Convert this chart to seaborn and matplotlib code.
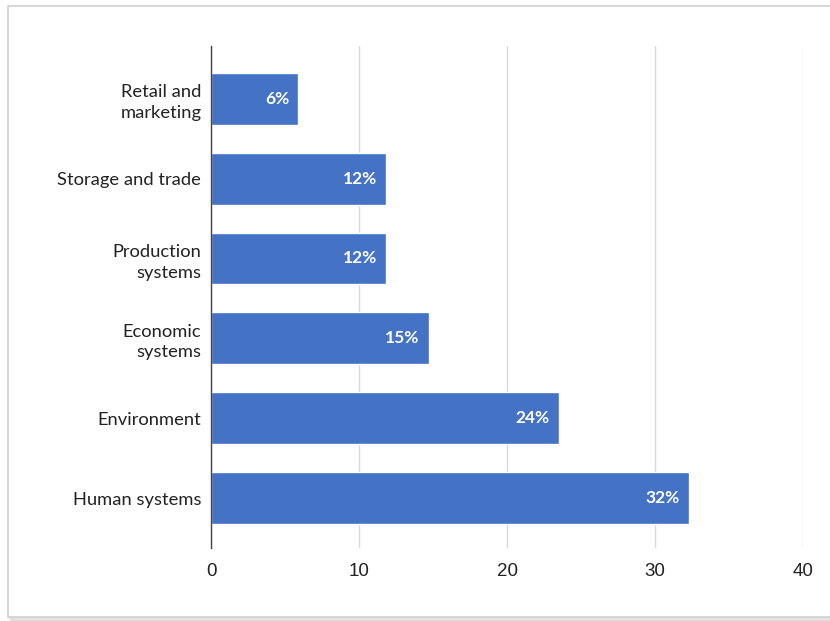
import matplotlib
matplotlib.use("Agg")
import matplotlib.pyplot as plt
import seaborn as sns
import pandas as pd
from matplotlib.patches import Rectangle

categories = ["Retail and\nmarketing", "Storage and trade", "Production\nsystems",
              "Economic\nsystems", "Environment", "Human systems"]
values = [5.9, 11.8, 11.8, 14.7, 23.5, 32.3]
labels = ["6%", "12%", "12%", "15%", "24%", "32%"]
xticks = [0, 10, 20, 30, 40]

df = pd.DataFrame({"category": categories, "value": values})

sns.set_theme(style="white")
plt.rcParams['font.family'] = ['Lato', 'DejaVu Sans']

fig = plt.figure(figsize=(8.3, 6.21), dpi=100)

# Outer frame with soft shadow
for i, a in enumerate([0.06, 0.05, 0.04]):
    off = (i + 1) * 0.0015
    fig.patches.append(Rectangle((8/830 + off, 1 - 617/621 - off*1.3), 1.2, 611/621,
                                 transform=fig.transFigure, facecolor="none",
                                 edgecolor=(0, 0, 0, a), linewidth=2.5, zorder=-2))
fig.patches.append(Rectangle((8/830, 1 - 617/621), 1.2, 611/621,
                             transform=fig.transFigure, facecolor="white",
                             edgecolor="#d0d0d0", linewidth=1.2, zorder=-1))

ax = fig.add_axes([211/830, 1 - 548/621, (803 - 211)/830, (548 - 46)/621])
ax.set_zorder(10)
ax.set_facecolor("none")

sns.barplot(data=df, x="value", y="category", orient="h", color="#4472C4",
            saturation=1, width=0.65, ax=ax, zorder=3)

for p, lab in zip(ax.patches, labels):
    ax.text(p.get_width() - 0.6, p.get_y() + p.get_height()/2, lab,
            ha="right", va="center", color="white", fontsize=12.5,
            fontweight="bold", zorder=4)

ax.set_xlim(0, 40)
ax.set_ylim(5.625, -0.66)
ax.set_xticks(xticks)
ax.tick_params(axis="x", length=0, pad=11)
ax.tick_params(axis="y", length=0, pad=7)
ax.grid(axis="x", color="#d9d9d9", linewidth=1, zorder=0)
ax.grid(axis="y", visible=False)
for s in ["top", "right", "bottom"]:
    ax.spines[s].set_visible(False)
ax.spines["left"].set_color("#444444")
ax.spines["left"].set_linewidth(1)
ax.spines["left"].set_zorder(5)
ax.set_xlabel("")
ax.set_ylabel("")

for lab in ax.get_xticklabels():
    lab.set_fontfamily(["Liberation Sans", "DejaVu Sans"])
    lab.set_fontsize(13.5)
    lab.set_color("#222222")
for lab in ax.get_yticklabels():
    lab.set_fontsize(13.2)
    lab.set_color("#222222")
    lab.set_multialignment("right")
    lab.set_linespacing(1.35)

fig.savefig("out.png", dpi=100)
